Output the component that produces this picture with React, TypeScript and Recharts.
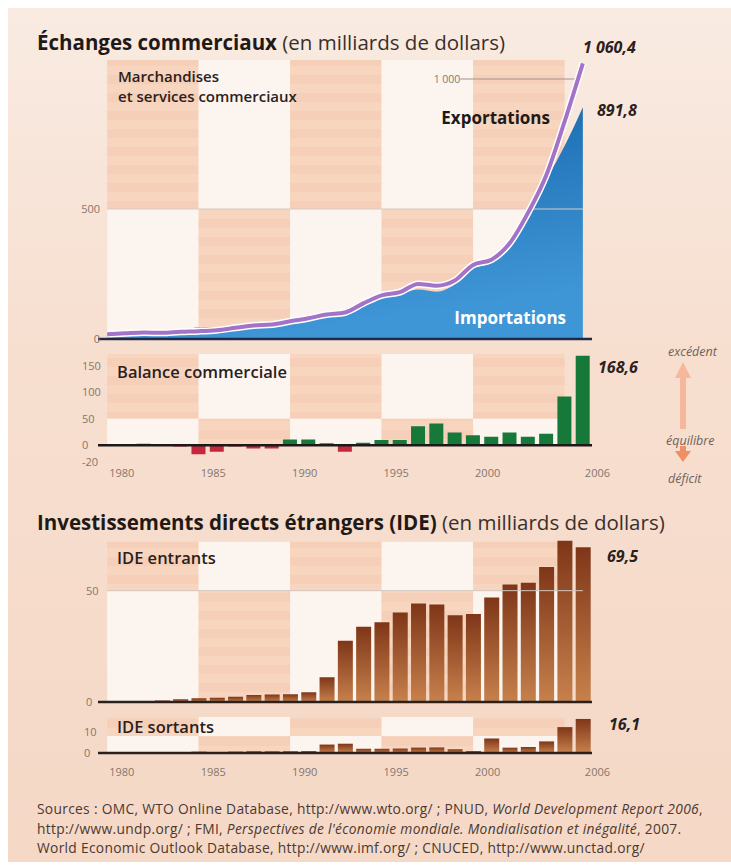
import { Area, Bar, BarChart, Cell, ComposedChart, Line, ReferenceArea, ReferenceLine, XAxis, YAxis } from "recharts";

const years = [1980, 1981, 1982, 1983, 1984, 1985, 1986, 1987, 1988, 1989, 1990, 1991, 1992, 1993, 1994, 1995, 1996, 1997, 1998, 1999, 2000, 2001, 2002, 2003, 2004, 2005, 2006];
const exportsValues = [18, 22, 25, 24, 28, 30, 34, 43, 52, 56, 68, 80, 94, 102, 137, 168, 180, 212, 205, 225, 285, 305, 368, 485, 630, 836, 1060.4];
const importsValues = [20, 21, 21, 23, 30, 45, 46, 46, 59, 63, 58, 69, 90, 115, 132, 158, 172, 190, 182, 210, 270, 292, 350, 470, 610, 742, 891.8];
const balanceValues = [-1, 1, 3, 1, -2, -17, -12, -2, -6, -6, 11, 11, 4, -12, 5, 10, 10, 36, 41, 24, 19, 16, 24, 16, 22, 92, 168.6];
const ideInValues = [0.06, 0.27, 0.43, 0.64, 1.26, 1.66, 1.88, 2.31, 3.19, 3.39, 3.49, 4.37, 11.16, 27.52, 33.79, 35.85, 40.18, 44.24, 43.75, 39, 39.5, 46.88, 52.74, 53.51, 60.63, 72.41, 69.47];
const ideOutValues = [0, 0, 0.04, 0.09, 0.13, 0.63, 0.45, 0.65, 0.85, 0.78, 0.83, 0.91, 4.0, 4.4, 2.0, 2.0, 2.11, 2.56, 2.63, 1.77, 0.92, 6.88, 2.52, 2.85, 5.5, 12.26, 16.13];

const yearTicks = [1980, 1985, 1990, 1995, 2000, 2006];
const bandEdges = [1980, 1985, 1990, 1995, 2000, 2005];

const tradeData = years.map((year, i) => ({ year, exp: exportsValues[i], imp: importsValues[i] }));
const balanceData = years.map((year, i) => ({ year, v: balanceValues[i] }));
const ideInData = years.map((year, i) => ({ year, v: ideInValues[i] }));
const ideOutData = years.map((year, i) => ({ year, v: ideOutValues[i] }));

const FONT = "'Open Sans', sans-serif";
const PEACH = "#f8d5bf";
const PALE = "#fcf4ef";
const TICK = "#85766d";
const INK = "#2b211c";
const X_DOMAIN = [1979.5, 2006.5];
const MARGIN = { top: 5, right: 139, left: 97, bottom: 10 };

function bandAreas(split: number, top: number) {
  const out = [];
  for (let i = 0; i < bandEdges.length - 1; i++) {
    out.push(
      <ReferenceArea key={`u${i}`} x1={bandEdges[i]} x2={bandEdges[i + 1]} y1={split} y2={top}
        fill={i % 2 === 0 ? "url(#stripes)" : PALE} fillOpacity={1} stroke="none" />
    );
    out.push(
      <ReferenceArea key={`l${i}`} x1={bandEdges[i]} x2={bandEdges[i + 1]} y1={0} y2={split}
        fill={i % 2 === 0 ? PALE : "url(#stripes)"} fillOpacity={1} stroke="none" />
    );
  }
  return out;
}

const stripeDefs = (
  <pattern id="stripes" width={8} height={18} patternUnits="userSpaceOnUse">
    <rect x={0} y={0} width={8} height={9} fill={PEACH} />
    <rect x={0} y={9} width={8} height={9} fill="#f6cfb8" />
  </pattern>
);

const yearTick = (offset: number) => (props: any) => {
  const { x, y, payload } = props;
  return (
    <text x={x + 2} y={y + offset} textAnchor="start" fontSize={11} fill={TICK} fontFamily={FONT}>
      {payload.value}
    </text>
  );
};

const leftTick = (anchorX: number, anchor: "start" | "end") => (props: any) => {
  const { y, payload } = props;
  const extra = payload.value < 0 ? 6 : 0;
  return (
    <text x={anchorX} y={y + 4 + extra} textAnchor={anchor} fontSize={11} fill={TICK} fontFamily={FONT}>
      {payload.value}
    </text>
  );
};

const TradeTick = (props: any) => {
  const { y, payload } = props;
  if (payload.value === 1000) {
    return (
      <text x={447} y={y + 4} textAnchor="middle" fontSize={10.5} fill={TICK} fontFamily={FONT}>1 000</text>
    );
  }
  return (
    <text x={100} y={y + 4} textAnchor="end" fontSize={11} fill={TICK} fontFamily={FONT}>{payload.value}</text>
  );
};

const T = ({ x, y, size = 15, weight = 600, italic = false, color = INK, anchor = "start", children }: any) => (
  <div
    style={{
      position: "absolute",
      left: x,
      top: y,
      transform: `translate(${anchor === "end" ? "-100%" : anchor === "middle" ? "-50%" : "0"}, -50%)`,
      fontSize: size,
      fontWeight: weight,
      fontStyle: italic ? "italic" : "normal",
      color,
      lineHeight: 1.1,
      whiteSpace: "nowrap",
      fontFamily: FONT,
    }}
  >
    {children}
  </div>
);

const barFill = (v: number) => (v >= 0 ? "#16793a" : "#c3283c");

export default function App() {
  return (
    <div style={{ position: "absolute", left: 0, top: 0, width: 731, height: 865, background: "#ffffff", overflow: "hidden", fontFamily: FONT }}>
      <div style={{ position: "absolute", left: 8, top: 8, width: 723, height: 854, background: "linear-gradient(180deg, #f9ebe2 0%, #f7dfd0 40%, #f5d8c6 100%)" }} />

      {/* Échanges commerciaux */}
      <div style={{ position: "absolute", left: 0, top: 48 }}>
        <ComposedChart width={731} height={301} data={tradeData} margin={MARGIN}>
          <defs>
            {stripeDefs}
            <linearGradient id="impFill" x1="0" y1="0" x2="0.3" y2="1">
              <stop offset="0%" stopColor="#1262a8" />
              <stop offset="100%" stopColor="#3f96d6" />
            </linearGradient>
          </defs>
          <XAxis dataKey="year" type="number" domain={X_DOMAIN} hide allowDataOverflow />
          <YAxis type="number" domain={[0, 1100]} ticks={[0, 500, 1000]} width={1} axisLine={false} tickLine={false} tick={TradeTick} interval={0} />
          {bandAreas(500, 1073)}
          <ReferenceLine stroke="#d8ccc4" strokeWidth={1} segment={[{ x: 1980, y: 500 }, { x: 2006, y: 500 }]} />
          <ReferenceLine stroke="#9c9490" strokeWidth={1} segment={[{ x: 1999.3, y: 1000 }, { x: 2005.7, y: 1000 }]} />
          <Area type="monotone" dataKey="imp" stroke="none" fill="url(#impFill)" fillOpacity={1} isAnimationActive={false} />
          <Line type="monotone" dataKey="exp" stroke="#ffffff" strokeWidth={7} dot={false} isAnimationActive={false} />
          <Line type="monotone" dataKey="exp" stroke="#a273c6" strokeWidth={4} dot={false} isAnimationActive={false} />
          <ReferenceLine y={0} stroke="#1f2a48" strokeWidth={2.5} />
        </ComposedChart>
      </div>

      {/* Balance commerciale */}
      <div style={{ position: "absolute", left: 0, top: 348.6 }}>
        <BarChart width={731} height={140} data={balanceData} margin={{ ...MARGIN, bottom: 2 }} barSize={14}>
          <defs>{stripeDefs}</defs>
          <XAxis dataKey="year" type="number" domain={X_DOMAIN} ticks={yearTicks} interval={0} axisLine={false} tickLine={false} tickSize={0} tick={yearTick(18)} height={30} allowDataOverflow />
          <YAxis type="number" domain={[-22, 172]} ticks={[-20, 0, 50, 100, 150]} width={1} axisLine={false} tickLine={false} tick={leftTick(82, "start")} interval={0} />
          {bandAreas(50, 172)}
          <Bar dataKey="v" isAnimationActive={false}>
            {balanceData.map((d, i) => (
              <Cell key={i} fill={barFill(d.v)} />
            ))}
          </Bar>
          <ReferenceLine y={0} stroke="#1c1a18" strokeWidth={2.5} />
        </BarChart>
      </div>

      {/* IDE entrants */}
      <div style={{ position: "absolute", left: 0, top: 529.5 }}>
        <BarChart width={731} height={182} data={ideInData} margin={MARGIN} barSize={15}>
          <defs>
            {stripeDefs}
            <linearGradient id="ideFill" x1="0" y1="0" x2="0" y2="1">
              <stop offset="0%" stopColor="#7e3618" />
              <stop offset="100%" stopColor="#c7814c" />
            </linearGradient>
          </defs>
          <XAxis dataKey="year" type="number" domain={X_DOMAIN} hide allowDataOverflow />
          <YAxis type="number" domain={[0, 75]} ticks={[0, 50]} width={1} axisLine={false} tickLine={false} tick={leftTick(86, "start")} interval={0} />
          {bandAreas(50, 72)}
          <ReferenceLine stroke="#d2c6be" strokeWidth={1} segment={[{ x: 1980, y: 50 }, { x: 2006, y: 50 }]} />
          <Bar dataKey="v" fill="url(#ideFill)" isAnimationActive={false} />
          <ReferenceLine y={0} stroke="#2a211c" strokeWidth={2.5} />
        </BarChart>
      </div>

      {/* IDE sortants */}
      <div style={{ position: "absolute", left: 0, top: 710.2 }}>
        <BarChart width={731} height={75} data={ideOutData} margin={{ ...MARGIN, bottom: 2 }} barSize={15}>
          <defs>
            {stripeDefs}
            <linearGradient id="ideFill2" x1="0" y1="0" x2="0" y2="1">
              <stop offset="0%" stopColor="#7e3618" />
              <stop offset="100%" stopColor="#c7814c" />
            </linearGradient>
          </defs>
          <XAxis dataKey="year" type="number" domain={X_DOMAIN} ticks={yearTicks} interval={0} axisLine={false} tickLine={false} tickSize={0} tick={yearTick(21)} height={30} allowDataOverflow />
          <YAxis type="number" domain={[0, 18]} ticks={[0, 10]} width={1} axisLine={false} tickLine={false} tick={leftTick(84, "start")} interval={0} />
          {bandAreas(8, 17)}
          <Bar dataKey="v" fill="url(#ideFill2)" isAnimationActive={false} />
          <ReferenceLine y={0} stroke="#2a211c" strokeWidth={2.5} />
        </BarChart>
      </div>

      {/* titles and labels */}
      <T x={37} y={42} size={20.5} weight={700} color="#1f1a17">
        Échanges commerciaux <span style={{ fontWeight: 400, color: "#3a302b" }}>(en milliards de dollars)</span>
      </T>
      <T x={118} y={75.5} size={15}>Marchandises</T>
      <T x={118} y={95.5} size={15}>et services commerciaux</T>
      <T x={550} y={118} size={17} weight={700} anchor="end" color="#1d1a18">Exportations</T>
      <T x={566} y={318} size={17} weight={700} anchor="end" color="#ffffff">Importations</T>
      <T x={583} y={48} size={16} weight={700} italic>1 060,4</T>
      <T x={597} y={111} size={16} weight={700} italic>891,8</T>

      <T x={117} y={372} size={16.5}>Balance commerciale</T>
      <T x={598} y={368} size={16} weight={700} italic>168,6</T>
      <T x={668} y={352} size={12.5} weight={400} italic color="#6f625a">excédent</T>
      <T x={666} y={441} size={12.5} weight={400} italic color="#6f625a">équilibre</T>
      <T x={668} y={479} size={12.5} weight={400} italic color="#6f625a">déficit</T>
      <svg style={{ position: "absolute", left: 670, top: 358 }} width={28} height={110}>
        <polygon points="13,4 5,20 21,20" fill="#f6b89c" />
        <rect x={10} y={19} width={6} height={52} fill="#f6b89c" />
        <rect x={10} y={88} width={6} height={5} fill="#ef8f66" />
        <polygon points="5,93 21,93 13,104" fill="#ef8f66" />
      </svg>

      <T x={37} y={522} size={20.5} weight={700} color="#1f1a17">
        Investissements directs étrangers (IDE) <span style={{ fontWeight: 400, color: "#3a302b" }}>(en milliards de dollars)</span>
      </T>
      <T x={117} y={558} size={16.5}>IDE entrants</T>
      <T x={607} y={557} size={16} weight={700} italic>69,5</T>
      <T x={117} y={727} size={16.5}>IDE sortants</T>
      <T x={609} y={725} size={16} weight={700} italic>16,1</T>

      <div style={{ position: "absolute", left: 37, top: 799, fontSize: 13.8, letterSpacing: 0.3, lineHeight: "19.5px", color: "#4a3a31", whiteSpace: "nowrap", fontFamily: FONT }}>
        <div>Sources : OMC, WTO Online Database, http://www.wto.org/ ; PNUD, <i>World Development Report 2006</i>,</div>
        <div>http://www.undp.org/ ; FMI, <i>Perspectives de l'économie mondiale. Mondialisation et inégalité</i>, 2007.</div>
        <div>World Economic Outlook Database, http://www.imf.org/ ; CNUCED, http://www.unctad.org/</div>
      </div>
    </div>
  );
}
